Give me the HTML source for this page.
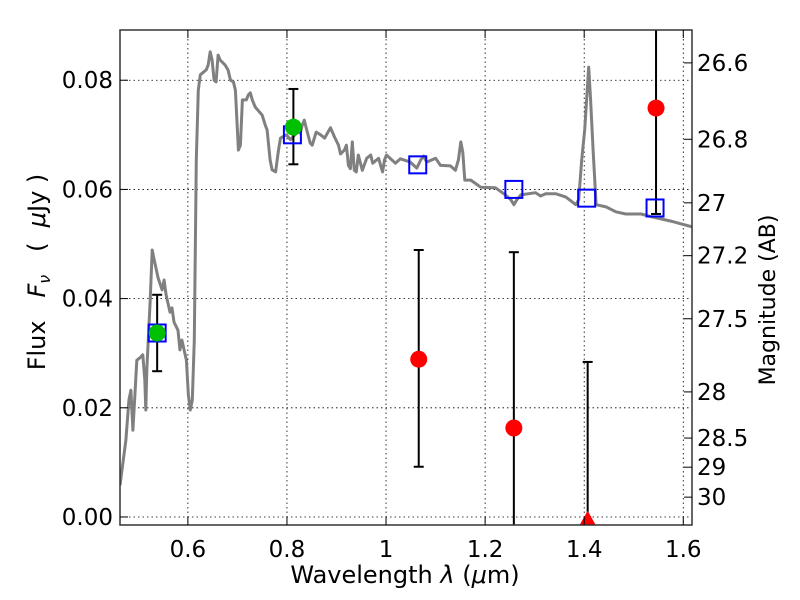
<!DOCTYPE html>
<html><head><meta charset="utf-8"><style>
body{margin:0;background:#fff}
svg{display:block;font-family:"DejaVu Sans","Liberation Sans",sans-serif}
</style></head><body>
<svg id="chart" width="800" height="600" viewBox="0 0 800 600"></svg>
<script>
const specLam=[0.463,0.475,0.481,0.485,0.489,0.493,0.497,0.505,0.509,0.513,0.515,0.517,0.524,0.528,0.532,0.540,0.548,0.552,0.556,0.564,0.568,0.572,0.580,0.584,0.588,0.597,0.601,0.605,0.609,0.613,0.617,0.621,0.625,0.637,0.641,0.645,0.649,0.653,0.657,0.661,0.665,0.675,0.681,0.686,0.692,0.696,0.702,0.706,0.710,0.718,0.722,0.726,0.730,0.736,0.750,0.756,0.760,0.766,0.770,0.777,0.783,0.787,0.799,0.807,0.819,0.823,0.827,0.831,0.835,0.839,0.847,0.851,0.859,0.868,0.876,0.888,0.896,0.904,0.908,0.916,0.920,0.924,0.928,0.932,0.936,0.940,0.944,0.952,0.961,0.969,0.973,0.985,0.989,0.993,0.997,1.001,1.019,1.029,1.049,1.062,1.070,1.076,1.082,1.100,1.110,1.130,1.140,1.146,1.151,1.155,1.159,1.171,1.191,1.221,1.241,1.252,1.258,1.264,1.272,1.302,1.312,1.322,1.343,1.363,1.383,1.389,1.395,1.401,1.409,1.413,1.418,1.424,1.444,1.464,1.484,1.515,1.535,1.555,1.575,1.595,1.620];
const specFlux=[0.0058,0.0141,0.0214,0.0232,0.0159,0.0223,0.0287,0.0293,0.0297,0.0251,0.0196,0.0269,0.0397,0.0489,0.0471,0.0438,0.0416,0.0434,0.0407,0.0375,0.0383,0.0357,0.0342,0.0306,0.0324,0.0287,0.0223,0.0196,0.0214,0.0324,0.0654,0.0782,0.0810,0.0819,0.0828,0.0852,0.0837,0.0800,0.0797,0.0846,0.0837,0.0828,0.0819,0.0800,0.0797,0.0782,0.0672,0.0681,0.0764,0.0764,0.0773,0.0777,0.0764,0.0751,0.0736,0.0718,0.0709,0.0654,0.0636,0.0632,0.0672,0.0694,0.0700,0.0691,0.0703,0.0709,0.0703,0.0718,0.0727,0.0712,0.0685,0.0681,0.0705,0.0700,0.0694,0.0713,0.0696,0.0681,0.0665,0.0672,0.0681,0.0644,0.0638,0.0687,0.0635,0.0632,0.0663,0.0635,0.0657,0.0663,0.0648,0.0657,0.0644,0.0632,0.0654,0.0663,0.0648,0.0656,0.0650,0.0639,0.0654,0.0661,0.0650,0.0657,0.0644,0.0643,0.0635,0.0654,0.0687,0.0668,0.0617,0.0617,0.0604,0.0603,0.0590,0.0581,0.0572,0.0581,0.0590,0.0594,0.0588,0.0592,0.0592,0.0586,0.0572,0.0581,0.0654,0.0709,0.0824,0.0764,0.0672,0.0572,0.0568,0.0559,0.0555,0.0555,0.0550,0.0546,0.0542,0.0537,0.0531];
const modelLam=[0.538,0.811,1.064,1.258,1.405,1.543];
const modelFlux=[0.0337,0.0700,0.0645,0.0600,0.0584,0.0566];
const detLam=[0.538,0.813];
const detFlux=[0.0337,0.0714];
const detLo=[0.0267,0.0646];
const detHi=[0.0407,0.0784];
const ndLam=[1.066,1.258,1.545];
const ndFlux=[0.0289,0.0163,0.0749];
const ndLo=[0.0092,-0.005,0.0555];
const ndHi=[0.0489,0.0485,0.10];
const ulLam=[1.407];
const ulFlux=[-0.0005];
const ulHi=[0.0284];
const xTicks=[0.6,0.8,1.0,1.2,1.4,1.6];
const xTickLabels=["0.6","0.8","1","1.2","1.4","1.6"];
const yTicks=[0,0.02,0.04,0.06,0.08];
const yTickLabels=["0.00","0.02","0.04","0.06","0.08"];
const magTicks=[26.6,26.8,27,27.2,27.5,28,28.5,29,30];
const magTickLabels=["26.6","26.8","27","27.2","27.5","28","28.5","29","30"];

const L=120,R=692,T=30,B=525;
const X0=0.463,X1=1.6176,Y0=-0.00147,Y1=0.0892;
const sx=v=>L+(v-X0)/(X1-X0)*(R-L);
const sy=v=>B-(v-Y0)/(Y1-Y0)*(B-T);
const magToFlux=m=>Math.pow(10,(23.9-m)/2.5);
const svg=document.getElementById('chart');
const NS='http://www.w3.org/2000/svg';
function mk(tag,attrs,parent){const e=document.createElementNS(NS,tag);for(const k in attrs)e.setAttribute(k,attrs[k]);(parent||svg).appendChild(e);return e;}

const clip=mk('clipPath',{id:'pc'});mk('rect',{x:L,y:T,width:R-L,height:B-T},clip);
const grid=mk('g',{});


xTicks.forEach(v=>{mk('line',{x1:sx(v),x2:sx(v),y1:T,y2:B,stroke:'#000','stroke-width':0.8,'stroke-dasharray':'1.5,3'},grid);});
yTicks.forEach(v=>{mk('line',{x1:L,x2:R,y1:sy(v),y2:sy(v),stroke:'#000','stroke-width':0.8,'stroke-dasharray':'1.5,3'},grid);});
const pts=specLam.map((l,i)=>sx(l).toFixed(1)+','+sy(specFlux[i]).toFixed(1)).join(' ');
const sp=mk('polyline',{points:pts,fill:'none',stroke:'#808080','stroke-width':3,'stroke-linejoin':'round','clip-path':'url(#pc)'});


function ebar(x,lo,hi,name){const g=mk('g',{'clip-path':'url(#pc)'});


mk('line',{x1:x,x2:x,y1:sy(lo),y2:sy(hi),stroke:'#000','stroke-width':2},g);
[lo,hi].forEach(v=>mk('line',{x1:x-5,x2:x+5,y1:sy(v),y2:sy(v),stroke:'#000','stroke-width':2},g));}
detLam.forEach((l,i)=>ebar(sx(l),detLo[i],detHi[i],'detection-errorbar'));
ndLam.forEach((l,i)=>ebar(sx(l),ndLo[i],ndHi[i],'photometry-errorbar'));
ulLam.forEach((l,i)=>ebar(sx(l),-0.01,ulHi[i],'upper-limit-errorbar'));
modelLam.forEach((l,i)=>{const r=mk('rect',{x:sx(l)-8.5,y:sy(modelFlux[i])-8.5,width:17,height:17,fill:'none',stroke:'#0000ff','stroke-width':2});

});
detLam.forEach((l,i)=>{const c=mk('circle',{cx:sx(l),cy:sy(detFlux[i]),r:8.5,fill:'#00c000'});

});
ndLam.forEach((l,i)=>{const c=mk('circle',{cx:sx(l),cy:sy(ndFlux[i]),r:8.5,fill:'#ff0000'});

});
ulLam.forEach((l,i)=>{const x=sx(l),y=sy(ulFlux[i]);const p=mk('polygon',{points:`${x},${y-9} ${x-9},${y+7} ${x+9},${y+7}`,fill:'#ff0000','clip-path':'url(#pc)'});

});
const fr=mk('rect',{x:L,y:T,width:R-L,height:B-T,fill:'none',stroke:'#333','stroke-width':1.5});


xTicks.forEach((v,i)=>{const x=sx(v);mk('line',{x1:x,x2:x,y1:B,y2:B-8,stroke:'#000'});mk('line',{x1:x,x2:x,y1:T,y2:T+8,stroke:'#000'});
const t=mk('text',{x:x,y:557,'text-anchor':'middle','font-size':23});t.textContent=xTickLabels[i];

});
yTicks.forEach((v,i)=>{const y=sy(v);mk('line',{x1:L,x2:L+8,y1:y,y2:y,stroke:'#000'});
const t=mk('text',{x:113,y:y+8,'text-anchor':'end','font-size':23});t.textContent=yTickLabels[i];

});
magTicks.forEach((m,i)=>{const y=sy(magToFlux(m));mk('line',{x1:R-8,x2:R,y1:y,y2:y,stroke:'#000'});
const t=mk('text',{x:697,y:y+8,'font-size':23});t.textContent=magTickLabels[i];

});
</script>
<svg width="800" height="600" style="position:absolute;left:0;top:0">
<text x="405" y="583" text-anchor="middle" font-size="24" font-family="DejaVu Sans, sans-serif">Wavelength  <tspan font-style="italic">λ</tspan> (<tspan font-style="italic">μ</tspan>m)</text>
<text transform="translate(45,272) rotate(-90)" text-anchor="middle" font-size="24" font-family="DejaVu Sans, sans-serif" xml:space="preserve">Flux   <tspan font-style="italic">F</tspan><tspan font-style="italic" font-size="16" dy="5">ν</tspan><tspan dy="-5">   (  </tspan><tspan font-style="italic">μ</tspan>Jy )</text>
<text transform="translate(775,300) rotate(-90)" text-anchor="middle" font-size="22" font-family="DejaVu Sans, sans-serif">Magnitude (AB)</text>
</svg>
</body></html>
